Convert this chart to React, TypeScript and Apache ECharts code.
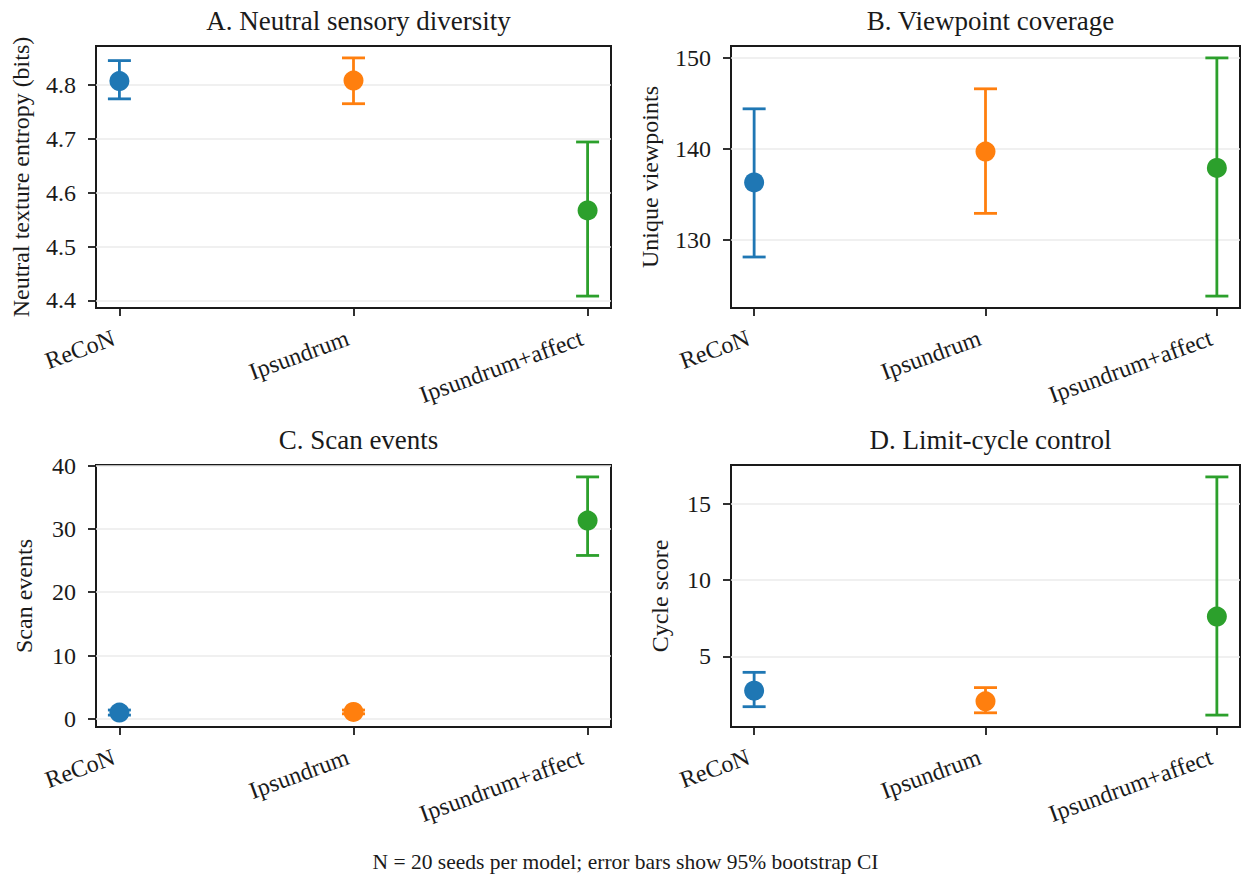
import React, { useEffect, useRef } from "react";
import * as echarts from "echarts";

const MODELS = ["ReCoN", "Ipsundrum", "Ipsundrum+affect"];
const MODEL_X = [0, 1, 2];
const COLORS = ["#1f77b4", "#ff7f0e", "#2ca02c"];

const PANEL_TITLES = [
  "A. Neutral sensory diversity",
  "B. Viewpoint coverage",
  "C. Scan events",
  "D. Limit-cycle control",
];
const Y_NAMES = [
  "Neutral texture entropy (bits)",
  "Unique viewpoints",
  "Scan events",
  "Cycle score",
];
const FOOTER = "N = 20 seeds per model; error bars show 95% bootstrap CI";

// Panel A: neutral texture entropy
const A_MEAN = [4.807, 4.808, 4.567];
const A_LOW = [4.774, 4.765, 4.408];
const A_HIGH = [4.845, 4.85, 4.694];
const A_TICKS = [4.4, 4.5, 4.6, 4.7, 4.8];

// Panel B: unique viewpoints
const B_MEAN = [136.3, 139.7, 137.9];
const B_LOW = [128.1, 132.9, 123.8];
const B_HIGH = [144.4, 146.6, 150.0];
const B_TICKS = [130, 140, 150];

// Panel C: scan events
const C_MEAN = [1.0, 1.1, 31.3];
const C_LOW = [0.6, 0.8, 25.8];
const C_HIGH = [1.4, 1.4, 38.2];
const C_TICKS = [0, 10, 20, 30, 40];

// Panel D: cycle score
const D_MEAN = [2.75, 2.05, 7.6];
const D_LOW = [1.7, 1.3, 1.15];
const D_HIGH = [3.95, 2.95, 16.75];
const D_TICKS = [5, 10, 15];

const PANELS = [
  { mean: A_MEAN, low: A_LOW, high: A_HIGH, ticks: A_TICKS, decimals: 1 },
  { mean: B_MEAN, low: B_LOW, high: B_HIGH, ticks: B_TICKS, decimals: 0 },
  { mean: C_MEAN, low: C_LOW, high: C_HIGH, ticks: C_TICKS, decimals: 0 },
  { mean: D_MEAN, low: D_LOW, high: D_HIGH, ticks: D_TICKS, decimals: 0 },
];

// layout
const GRIDS = [
  { left: 96, top: 46, width: 515, height: 262 },
  { left: 731, top: 46, width: 509, height: 262 },
  { left: 96, top: 465, width: 515, height: 262 },
  { left: 731, top: 465, width: 509, height: 262 },
];
const NAME_GAPS = [63, 69, 60, 59];

const FONT = "Liberation Serif";
const INK = "#1a1a1a";

function yRange(low: number[], high: number[]): [number, number] {
  const mn = Math.min(...low);
  const mx = Math.max(...high);
  const m = (mx - mn) * 0.05;
  return [mn - m, mx + m];
}

export default function App() {
  const ref = useRef<HTMLDivElement>(null);
  useEffect(() => {
    if (!ref.current) return;
    const chart = echarts.init(ref.current, undefined, { renderer: "svg" });

    const grid: any[] = [];
    const xAxis: any[] = [];
    const yAxis: any[] = [];
    const series: any[] = [];
    const title: any[] = [];

    PANELS.forEach((p, i) => {
      const g = GRIDS[i];
      grid.push({
        ...g,
        show: true,
        borderColor: INK,
        borderWidth: 2,
        backgroundColor: "transparent",
        containLabel: false,
      });
      title.push({
        text: PANEL_TITLES[i],
        left: g.left + g.width / 2,
        top: g.top - 44,
        textAlign: "center",
        textStyle: { fontFamily: FONT, fontSize: 27, fontWeight: "normal", color: INK },
      });
      xAxis.push({
        type: "value",
        gridIndex: i,
        min: -0.1,
        max: 2.1,
        axisLine: { show: false, onZero: false },
        axisTick: {
          show: true,
          customValues: MODEL_X,
          length: 8,
          lineStyle: { color: INK, width: 1.8 },
        },
        axisLabel: {
          customValues: MODEL_X,
          rotate: 20,
          margin: 27,
          padding: [0, 6, 0, 0],
          hideOverlap: false,
          fontFamily: FONT,
          fontSize: 24,
          color: INK,
          formatter: (v: number) => MODELS[Math.round(v)] ?? "",
        },
        splitLine: { show: false },
      });
      const [ymin, ymax] = yRange(p.low, p.high);
      yAxis.push({
        type: "value",
        gridIndex: i,
        min: ymin,
        max: ymax,
        name: Y_NAMES[i],
        nameLocation: "middle",
        nameGap: NAME_GAPS[i],
        nameTextStyle: { fontFamily: FONT, fontSize: 24, color: INK },
        axisLine: { show: false, onZero: false },
        axisTick: {
          show: true,
          customValues: p.ticks,
          length: 8,
          lineStyle: { color: INK, width: 1.8 },
        },
        axisLabel: {
          customValues: p.ticks,
          margin: 20,
          hideOverlap: false,
          fontFamily: FONT,
          fontSize: 24,
          color: INK,
          formatter: (v: number) => v.toFixed(p.decimals),
        },
        splitLine: { show: true, lineStyle: { color: "#ebebeb", width: 1.5 } },
      });
      series.push({
        type: "custom",
        xAxisIndex: i,
        yAxisIndex: i,
        data: MODEL_X.map((x, k) => [x, p.low[k], p.high[k]]),
        encode: { x: 0, y: [1, 2] },
        z: 2,
        renderItem: (params: any, api: any) => {
          const x = api.value(0);
          const lo = api.coord([x, api.value(1)]);
          const hi = api.coord([x, api.value(2)]);
          const c = COLORS[params.dataIndex];
          const hw = 11.5;
          const st = { stroke: c, lineWidth: 2.8 };
          return {
            type: "group",
            children: [
              { type: "line", shape: { x1: lo[0], y1: lo[1], x2: hi[0], y2: hi[1] }, style: st },
              { type: "line", shape: { x1: lo[0] - hw, y1: lo[1], x2: lo[0] + hw, y2: lo[1] }, style: st },
              { type: "line", shape: { x1: hi[0] - hw, y1: hi[1], x2: hi[0] + hw, y2: hi[1] }, style: st },
            ],
          };
        },
      });
      series.push({
        type: "scatter",
        xAxisIndex: i,
        yAxisIndex: i,
        symbol: "circle",
        symbolSize: 20,
        z: 3,
        data: MODEL_X.map((x, k) => [x, p.mean[k]]),
        itemStyle: { color: (q: any) => COLORS[q.dataIndex], opacity: 1 },
      });
    });

    chart.setOption({
      animation: false,
      backgroundColor: "#ffffff",
      textStyle: { fontFamily: FONT, color: INK },
      title,
      grid,
      xAxis,
      yAxis,
      series,
      graphic: [
        {
          type: "text",
          left: "center",
          top: 851,
          style: { text: FOOTER, fontFamily: FONT, fontSize: 21.5, fill: INK },
        },
      ],
    });
    return () => chart.dispose();
  }, []);
  return (
    <div
      ref={ref}
      style={{ position: "fixed", left: 0, top: 0, width: 1251, height: 883, background: "#fff" }}
    />
  );
}
